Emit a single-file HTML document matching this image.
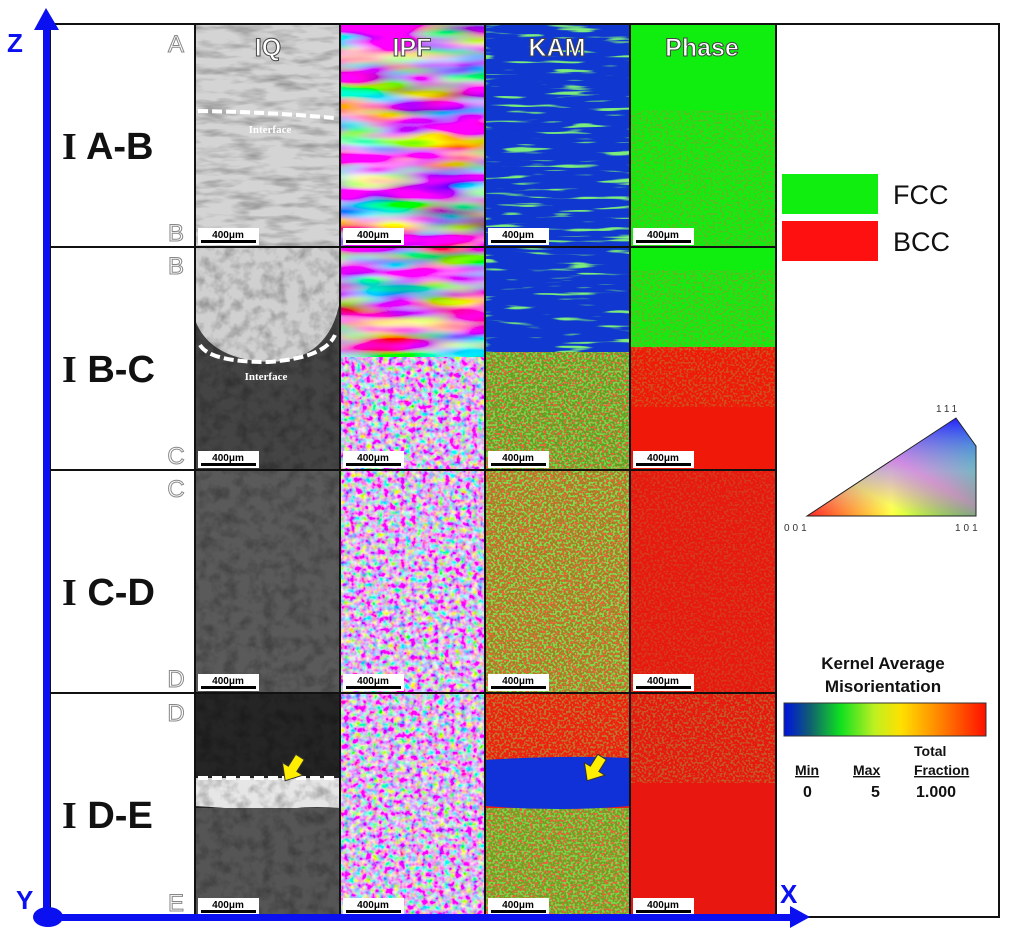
<!DOCTYPE html>
<html><head><meta charset="utf-8"><style>
html,body{margin:0;padding:0;background:#fff;}
svg{display:block;font-family:"Liberation Sans",sans-serif;}
</style></head><body>
<svg width="1024" height="938" viewBox="0 0 1024 938" xmlns="http://www.w3.org/2000/svg">
<defs>
<filter id="ipfC" x="0" y="0" width="1" height="1"><feTurbulence type="fractalNoise" baseFrequency="0.012 0.06" numOctaves="2" seed="3"/><feColorMatrix type="matrix" values="3 -1.2 0 0 -0.3  -1 3 -1 0 -0.2  0 -1.2 3 0 -0.2  0 0 0 0 1"/></filter>
<filter id="ipfF" x="0" y="0" width="1" height="1"><feTurbulence type="fractalNoise" baseFrequency="0.18" numOctaves="2" seed="5"/><feColorMatrix type="matrix" values="2.4 -1 0 0 0.0  -0.8 2.4 -0.8 0 0.1  0 -1 2.4 0 0.15  0 0 0 0 1"/></filter>
<filter id="gn" x="0" y="0" width="1" height="1"><feTurbulence type="fractalNoise" baseFrequency="0.45" numOctaves="1" seed="7"/><feColorMatrix type="matrix" values="0 0 0 0 0.15  0 0 0 0 0.95  0 0 0 0 0.1  9 0 0 0 -4.4"/></filter>
<filter id="rn" x="0" y="0" width="1" height="1"><feTurbulence type="fractalNoise" baseFrequency="0.45" numOctaves="1" seed="11"/><feColorMatrix type="matrix" values="0 0 0 0 0.95  0 0 0 0 0.1  0 0 0 0 0.05  0 9 0 0 -4.4"/></filter>
<filter id="gst" x="0" y="0" width="1" height="1"><feTurbulence type="fractalNoise" baseFrequency="0.02 0.25" numOctaves="2" seed="4"/><feColorMatrix type="matrix" values="0 0 0 0 0.2  0 0 0 0 0.85  0 0 0 0 0.2  8 0 0 0 -4.8"/></filter>
<filter id="gray" x="0" y="0" width="1" height="1"><feTurbulence type="fractalNoise" baseFrequency="0.08" numOctaves="3" seed="2"/><feColorMatrix type="matrix" values="0 0 0 0 0  0 0 0 0 0  0 0 0 0 0  0 0 0 -1.2 0.7"/></filter>
<filter id="grayL" x="0" y="0" width="1" height="1"><feTurbulence type="fractalNoise" baseFrequency="0.03 0.12" numOctaves="3" seed="8"/><feColorMatrix type="matrix" values="0 0 0 0 0  0 0 0 0 0  0 0 0 0 0  0 0 0 -1.5 0.85"/></filter>
<linearGradient id="kamBar" x1="0" x2="1"><stop offset="0" stop-color="#0010e0"/><stop offset="0.13" stop-color="#106070"/><stop offset="0.28" stop-color="#10e020"/><stop offset="0.45" stop-color="#c0f020"/><stop offset="0.58" stop-color="#ffe000"/><stop offset="0.78" stop-color="#ff8000"/><stop offset="1" stop-color="#ff1000"/></linearGradient>
<linearGradient id="triH" x1="0" x2="1"><stop offset="0" stop-color="#ff2020"/><stop offset="0.5" stop-color="#ffff40"/><stop offset="1" stop-color="#20ff20"/></linearGradient>
<linearGradient id="triV" x1="0" y1="1" x2="0" y2="0"><stop offset="0" stop-color="#fff" stop-opacity="0"/><stop offset="0.45" stop-color="#80ffff" stop-opacity="0.6"/><stop offset="1" stop-color="#2020ff" stop-opacity="1"/></linearGradient>
<linearGradient id="triM" x1="0" y1="1" x2="1" y2="0"><stop offset="0.3" stop-color="#ff00ff" stop-opacity="0"/><stop offset="0.55" stop-color="#ff40ff" stop-opacity="0.55"/><stop offset="1" stop-color="#4000ff" stop-opacity="0"/></linearGradient>
</defs>

<!-- Row 1 -->
<rect x="195" y="24" width="145" height="223" fill="#d4d4d4"/>
<rect x="195" y="24" width="145" height="223" filter="url(#grayL)" opacity="0.45"/>
<rect x="340" y="24" width="145" height="223" filter="url(#ipfC)"/>
<rect x="485" y="24" width="145" height="223" fill="#1038d0"/>
<rect x="485" y="24" width="145" height="223" filter="url(#gst)"/>
<rect x="630" y="24" width="146" height="223" fill="#10ee10"/>
<rect x="630" y="110" width="146" height="137" filter="url(#rn)" opacity="0.3"/>
<!-- Row 2 -->
<rect x="195" y="247" width="145" height="223" fill="#444"/>
<path d="M195 247 H340 V300 Q330 360 270 362 Q210 360 195 320 Z" fill="#d0d0d0"/>
<rect x="195" y="247" width="145" height="223" filter="url(#gray)" opacity="0.5"/>
<rect x="340" y="247" width="145" height="223" filter="url(#ipfF)"/>
<rect x="340" y="247" width="145" height="110" filter="url(#ipfC)"/>
<rect x="485" y="247" width="145" height="223" fill="#60a020"/>
<rect x="485" y="247" width="145" height="223" filter="url(#rn)"/>
<rect x="485" y="247" width="145" height="223" filter="url(#gn)" opacity="0.7"/>
<rect x="485" y="247" width="145" height="105" fill="#1038d0"/>
<rect x="485" y="247" width="145" height="105" filter="url(#gst)"/>
<rect x="630" y="247" width="146" height="223" fill="#f01808"/>
<rect x="630" y="247" width="146" height="100" fill="#10ee10"/>
<rect x="630" y="270" width="146" height="80" filter="url(#rn)" opacity="0.35"/>
<rect x="630" y="347" width="146" height="60" filter="url(#gn)" opacity="0.25"/>
<!-- Row 3 -->
<rect x="195" y="470" width="145" height="223" fill="#5a5a5a"/>
<rect x="195" y="470" width="145" height="223" filter="url(#gray)" opacity="0.5"/>
<rect x="340" y="470" width="145" height="223" filter="url(#ipfF)"/>
<rect x="485" y="470" width="145" height="223" fill="#a08020"/>
<rect x="485" y="470" width="145" height="223" filter="url(#rn)"/>
<rect x="485" y="470" width="145" height="223" filter="url(#gn)" opacity="0.8"/>
<rect x="630" y="470" width="146" height="223" fill="#e81810"/>
<rect x="630" y="470" width="146" height="223" filter="url(#gn)" opacity="0.15"/>
<!-- Row 4 -->
<rect x="195" y="693" width="145" height="224" fill="#252525"/>
<path d="M195 778 H340 V808 Q300 805 270 812 Q230 808 195 806 Z" fill="#e6e6e6"/>
<rect x="195" y="808" width="145" height="109" fill="#555"/>
<rect x="195" y="693" width="145" height="224" filter="url(#gray)" opacity="0.5"/>
<path d="M198 778 H338" stroke="#fff" stroke-width="4" stroke-dasharray="10 4"/>
<rect x="340" y="693" width="145" height="224" filter="url(#ipfF)"/>
<rect x="485" y="693" width="145" height="224" fill="#f02010"/>
<rect x="485" y="693" width="145" height="70" filter="url(#gn)" opacity="0.4"/>
<rect x="485" y="808" width="145" height="109" fill="#70a020"/>
<rect x="485" y="808" width="145" height="109" filter="url(#rn)"/>
<rect x="485" y="808" width="145" height="109" filter="url(#gn)" opacity="0.7"/>
<path d="M485 760 Q560 755 630 758 V806 Q560 812 485 806 Z" fill="#1030d8"/>
<rect x="630" y="693" width="146" height="224" fill="#e81810"/>
<rect x="630" y="693" width="146" height="90" filter="url(#gn)" opacity="0.3"/>
<!-- arrows yellow -->
<g fill="#ffee00" stroke="#333" stroke-width="1">
<polygon transform="translate(300,757) rotate(32)" points="-5,0 5,0 5,14 12,14 0,28 -12,14 -5,14"/>
<polygon transform="translate(602,757) rotate(32)" points="-5,0 5,0 5,14 12,14 0,28 -12,14 -5,14"/>
</g>
<!-- interface -->
<path d="M198 111 Q270 112 334 118" stroke="#fff" stroke-width="4" fill="none" stroke-dasharray="10 4"/>
<text x="270" y="133" font-family="Liberation Serif" font-size="11" font-weight="bold" fill="#fff" text-anchor="middle">Interface</text>
<path d="M200 345 Q210 362 268 362 Q325 358 335 335" stroke="#fff" stroke-width="4" fill="none" stroke-dasharray="10 4"/>
<text x="266" y="380" font-family="Liberation Serif" font-size="11" font-weight="bold" fill="#fff" text-anchor="middle">Interface</text>

<!-- scale bars -->
<g font-size="10" font-weight="bold" text-anchor="middle">
<g id="sb">
<rect x="198" y="228" width="61" height="17" fill="#fff"/><rect x="201" y="240" width="55" height="3" fill="#000"/><text x="228" y="238">400μm</text>
</g>
<use href="#sb" x="145"/><use href="#sb" x="290"/><use href="#sb" x="435"/>
<use href="#sb" y="223"/><use href="#sb" x="145" y="223"/><use href="#sb" x="290" y="223"/><use href="#sb" x="435" y="223"/>
<use href="#sb" y="446"/><use href="#sb" x="145" y="446"/><use href="#sb" x="290" y="446"/><use href="#sb" x="435" y="446"/>
<use href="#sb" y="670"/><use href="#sb" x="145" y="670"/><use href="#sb" x="290" y="670"/><use href="#sb" x="435" y="670"/>
</g>

<!-- headers -->
<g font-size="25" font-weight="bold" fill="#fff" stroke="#444" stroke-width="1" text-anchor="middle">
<text x="268" y="56">IQ</text><text x="412" y="56">IPF</text><text x="557" y="56">KAM</text><text x="702" y="56">Phase</text>
</g>

<!-- grid -->
<g stroke="#111" stroke-width="2" fill="none">
<rect x="50" y="24" width="949" height="893"/>
<line x1="195" y1="24" x2="195" y2="917"/><line x1="340" y1="24" x2="340" y2="917"/>
<line x1="485" y1="24" x2="485" y2="917"/><line x1="630" y1="24" x2="630" y2="917"/>
<line x1="776" y1="24" x2="776" y2="917"/>
<line x1="50" y1="247" x2="776" y2="247"/><line x1="50" y1="470" x2="776" y2="470"/><line x1="50" y1="693" x2="776" y2="693"/>
</g>

<!-- row labels -->
<g font-size="38" font-weight="bold" fill="#111">
<text x="62" y="159"><tspan font-family="Liberation Serif">I</tspan> A-B</text>
<text x="62" y="382"><tspan font-family="Liberation Serif">I</tspan> B-C</text>
<text x="62" y="605"><tspan font-family="Liberation Serif">I</tspan> C-D</text>
<text x="62" y="828"><tspan font-family="Liberation Serif">I</tspan> D-E</text>
</g>
<g font-size="24" fill="#fff" stroke="#888" stroke-width="1" text-anchor="middle">
<text x="176" y="52">A</text><text x="176" y="241">B</text>
<text x="176" y="274">B</text><text x="176" y="464">C</text>
<text x="176" y="497">C</text><text x="176" y="687">D</text>
<text x="176" y="721">D</text><text x="176" y="911">E</text>
</g>

<!-- legend -->
<rect x="782" y="174" width="96" height="40" fill="#10ee10"/>
<rect x="782" y="221" width="96" height="40" fill="#ff1010"/>
<text x="893" y="204" font-size="27" fill="#111">FCC</text>
<text x="893" y="251" font-size="27" fill="#111">BCC</text>
<polygon points="807,516 976,516 976,446 956,418" fill="url(#triH)"/>
<polygon points="807,516 976,516 976,446 956,418" fill="url(#triV)"/>
<polygon points="807,516 976,516 976,446 956,418" fill="url(#triM)"/>
<polygon points="807,516 976,516 976,446 956,418" fill="none" stroke="#222" stroke-width="1"/>
<g font-size="10" fill="#333" letter-spacing="3">
<text x="936" y="412">111</text><text x="784" y="531">001</text><text x="955" y="531">101</text>
</g>
<g font-weight="bold" fill="#111" text-anchor="middle">
<text x="883" y="669" font-size="17">Kernel Average</text>
<text x="883" y="692" font-size="17">Misorientation</text>
</g>
<rect x="784" y="703" width="202" height="33" fill="url(#kamBar)" stroke="#333" stroke-width="1"/>
<g font-size="14" font-weight="bold" fill="#111">
<text x="914" y="756">Total</text>
<text x="795" y="775" text-decoration="underline">Min</text>
<text x="853" y="775" text-decoration="underline">Max</text>
<text x="914" y="775" text-decoration="underline">Fraction</text>
<text x="803" y="797" font-size="16">0</text>
<text x="871" y="797" font-size="16">5</text>
<text x="916" y="797" font-size="16">1.000</text>
</g>

<!-- axes -->
<rect x="43" y="28" width="7" height="890" fill="#0a10f0"/>
<polygon points="46,8 34,30 59,30" fill="#0a10f0"/>
<rect x="48" y="914" width="745" height="7" fill="#0a10f0"/>
<polygon points="810,917 790,906 790,928" fill="#0a10f0"/>
<ellipse cx="48" cy="917" rx="15" ry="10" fill="#0a10f0"/>
<g font-size="26" font-weight="bold" fill="#0a10f0">
<text x="7" y="52">Z</text><text x="16" y="909">Y</text><text x="780" y="903">X</text>
</g>
</svg>
</body></html>
